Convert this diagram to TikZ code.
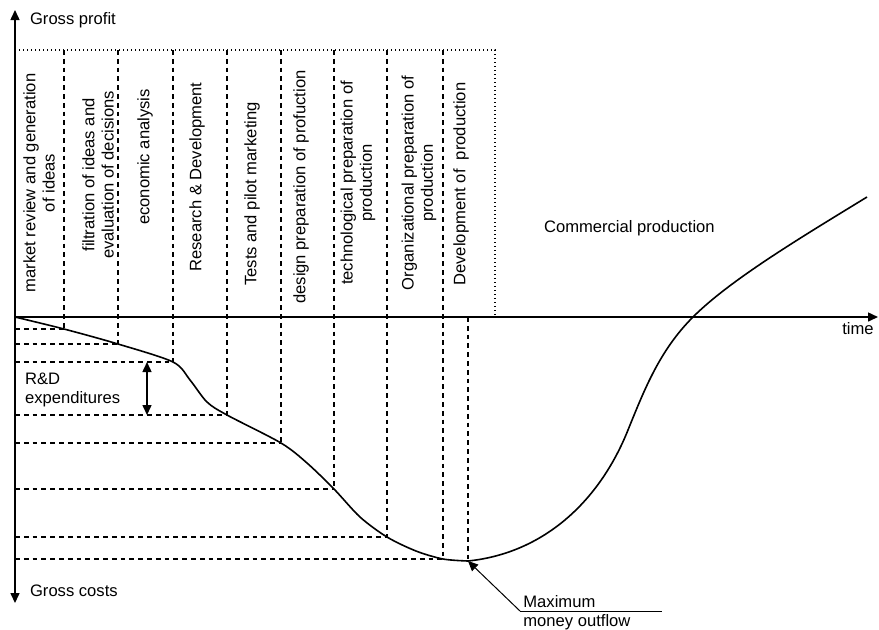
\documentclass[tikz,border=0pt]{standalone}
\usepackage{fontspec}
\setmainfont{Liberation Sans}
\usetikzlibrary{arrows.meta, calc}
\tikzset{
  axis/.style={line width=0.75pt},
  guide/.style={line width=0.6pt, dash pattern=on 2.4pt off 2pt},
  frame/.style={line width=0.55pt, dash pattern=on 0.6pt off 1.4pt},
  phase/.style={rotate=90, align=center, inner sep=0pt},
  curve/.style={line width=0.8pt},
  >={Triangle[length=5pt, width=4.5pt]},
}

\begin{document}
\begin{tikzpicture}[x=0.5pt, y=-0.5pt, font=\fontsize{8.3}{9.6}\selectfont]
  \useasboundingbox (0,0) rectangle (879,629);
  \coordinate (o) at (15,317);
  \coordinate (top) at (15,50);
  \coordinate (up) at (15,10);
  \coordinate (down) at (15,603);
  \coordinate (tend) at (878,317);
  % cost levels at the end of each phase
  \foreach \n/\x/\y in {1/64/329, 2/118/344, 3/173/362, 4/227/415,
                        5/281/443, 6/334/489, 7/387/537, 8/443/559}
    \coordinate (p\n) at (\x,\y);
  \coordinate (min) at (468,561);
  \coordinate (cross) at (693,317);
  \coordinate (last) at (867,197);

  % axes
  \draw[axis, <->] (down) -- (up);
  \draw[axis, ->] (o) -- (tend);
  \node[anchor=west] (gp) at (23,20) {Gross profit};
  \node[anchor=west] (gc) at (23,591) {Gross costs};
  \node (tm) at (858,329) {time};

  % phase columns
  \draw[frame] (top) -- (495,50) -- (495,317);
  \foreach \n in {1,...,8} {
    \draw[guide] (p\n |- top) -- (p\n);
    \draw[guide] (p\n -| o) -- (p\n);
  }
  \draw[guide] (min |- o) -- (min);

  \node[phase] (ph1) at (39,183) {market review and generation\\of ideas};
  \node[phase] (ph2) at (98,175) {filtration of ideas and\\evaluation of decisions};
  \node[phase] (ph3) at (145,157) {economic analysis};
  \node[phase] (ph4) at (197,177) {Research \& Development};
  \node[phase] (ph5) at (252,194) {Tests and pilot marketing};
  \node[phase] (ph6) at (301,187) {design preparation of profuction};
  \node[phase] (ph7) at (358,183) {technological preparation of\\production};
  \node[phase] (ph8) at (419,183) {Organizational preparation of\\production};
  \node[phase] (ph9) at (461,184) {Development of \ production};
  \node[anchor=west] (cp) at (537,228) {Commercial production};

  % cash flow curve
  \draw[curve] plot[smooth, tension=0.5] coordinates {
    (o) (p1) (p2) (p3) (190,380) (207,402) (p4) (p5) (307,463) (p6)
    (360,517) (p7) (416,551) (p8) (min)}
    .. controls (545,553) and (600,500) .. (628,430)
    .. controls (645,388) and (660,350) .. (cross)
    .. controls (730,280) and (800,238) .. (last);

  % R&D expenditures
  \coordinate (rd) at (147,0);
  \draw[axis, <->] (p3 -| rd) -- (p4 -| rd);
  \node[anchor=west, align=left] (rdl) at (18,390) {R\&D\\expenditures};

  % maximum money outflow
  \coordinate (lead) at (520,611);
  \coordinate (leadend) at (662,611);
  \draw[line width=0.5pt] (lead) -- (leadend);
  \draw[line width=0.5pt, ->] (lead) -- (min);
  \node[anchor=south west, inner sep=1.5pt] (mx) at (lead) {Maximum};
  \node[anchor=north west, inner sep=1.5pt] (mo) at (lead) {money outflow};
\end{tikzpicture}
\end{document}
